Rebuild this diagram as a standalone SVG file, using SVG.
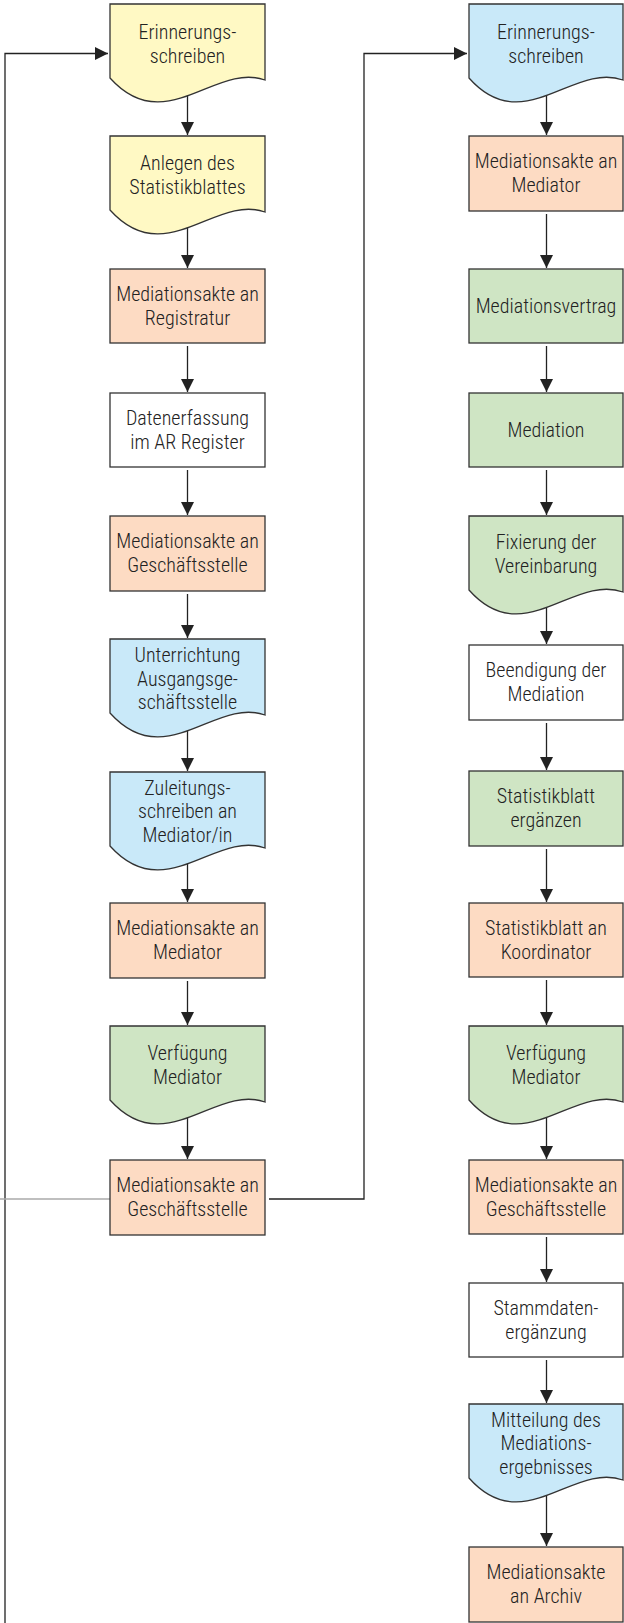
<svg xmlns="http://www.w3.org/2000/svg" xmlns:xlink="http://www.w3.org/1999/xlink" width="624" height="1623" viewBox="0 0 624 1623">
<style>
.box{stroke:#333;stroke-width:1.3}
.y{fill:#FFF9C4}.b{fill:#C9E9F9}.s{fill:#FDDBC3}.g{fill:#CFE5C4}.w{fill:#FFFFFF}
text{font-family:"Liberation Sans Narrow","Roboto Condensed","Roboto","Liberation Sans",sans-serif;font-size:20px;font-weight:300;fill:#222;text-anchor:middle}
.c{fill:none;stroke:#222;stroke-width:1.3}
</style>
<defs>
<marker id="ah" markerUnits="userSpaceOnUse" markerWidth="14" markerHeight="14" viewBox="0 0 14 14" refX="13" refY="7" orient="auto">
<path d="M0,0.5 L13,7 L0,13.5 Z" fill="#222"/>
</marker>
<path id="docL" d="M0,0 H155 V76 C105,58 55,135 0,74 Z"/>
<path id="docR" d="M0,0 H154 V76 C104,58 54,135 0,74 Z"/>
</defs>

<g id="connectors">
<path class="c" d="M5,1623 V53.5 H108" marker-end="url(#ah)"/>
<path d="M0,1199 H110" fill="none" stroke="#aaa" stroke-width="1.3"/>
<path class="c" d="M269,1199 H364 V53.5 H467" marker-end="url(#ah)"/>
<path class="c" d="M187.5,94 V135" marker-end="url(#ah)"/>
<path class="c" d="M187.5,226 V268" marker-end="url(#ah)"/>
<path class="c" d="M187.5,346 V392" marker-end="url(#ah)"/>
<path class="c" d="M187.5,470 V515" marker-end="url(#ah)"/>
<path class="c" d="M187.5,594 V638" marker-end="url(#ah)"/>
<path class="c" d="M187.5,729 V771" marker-end="url(#ah)"/>
<path class="c" d="M187.5,862 V902" marker-end="url(#ah)"/>
<path class="c" d="M187.5,981 V1025" marker-end="url(#ah)"/>
<path class="c" d="M187.5,1116 V1159" marker-end="url(#ah)"/>
<path class="c" d="M546.5,94 V135" marker-end="url(#ah)"/>
<path class="c" d="M546.5,214 V268" marker-end="url(#ah)"/>
<path class="c" d="M546.5,346 V392" marker-end="url(#ah)"/>
<path class="c" d="M546.5,470 V515" marker-end="url(#ah)"/>
<path class="c" d="M546.5,606 V644" marker-end="url(#ah)"/>
<path class="c" d="M546.5,723 V770" marker-end="url(#ah)"/>
<path class="c" d="M546.5,849 V902" marker-end="url(#ah)"/>
<path class="c" d="M546.5,980 V1025" marker-end="url(#ah)"/>
<path class="c" d="M546.5,1116 V1159" marker-end="url(#ah)"/>
<path class="c" d="M546.5,1237 V1282" marker-end="url(#ah)"/>
<path class="c" d="M546.5,1360 V1403" marker-end="url(#ah)"/>
<path class="c" d="M546.5,1494 V1546" marker-end="url(#ah)"/>
</g>

<g id="L1" transform="translate(110,4)"><use href="#docL" class="box y"/><text x="77.5" y="35">Erinnerungs-</text><text x="77.5" y="59">schreiben</text></g>
<g id="L2" transform="translate(110,136)"><use href="#docL" class="box y"/><text x="77.5" y="34">Anlegen des</text><text x="77.5" y="58">Statistikblattes</text></g>
<g id="L3" transform="translate(110,269)"><rect width="155" height="74" class="box s"/><text x="77.5" y="32">Mediationsakte an</text><text x="77.5" y="56">Registratur</text></g>
<g id="L4" transform="translate(110,393)"><rect width="155" height="74" class="box w"/><text x="77.5" y="32">Datenerfassung</text><text x="77.5" y="56">im AR Register</text></g>
<g id="L5" transform="translate(110,516)"><rect width="155" height="75" class="box s"/><text x="77.5" y="32">Mediationsakte an</text><text x="77.5" y="56">Geschäftsstelle</text></g>
<g id="L6" transform="translate(110,639)"><use href="#docL" class="box b"/><text x="77.5" y="23">Unterrichtung</text><text x="77.5" y="46.5">Ausgangsge-</text><text x="77.5" y="70">schäftsstelle</text></g>
<g id="L7" transform="translate(110,772)"><use href="#docL" class="box b"/><text x="77.5" y="22.5">Zuleitungs-</text><text x="77.5" y="46">schreiben an</text><text x="77.5" y="69.5">Mediator/in</text></g>
<g id="L8" transform="translate(110,903)"><rect width="155" height="75" class="box s"/><text x="77.5" y="32">Mediationsakte an</text><text x="77.5" y="56">Mediator</text></g>
<g id="L9" transform="translate(110,1026)"><use href="#docL" class="box g"/><text x="77.5" y="34">Verfügung</text><text x="77.5" y="58">Mediator</text></g>
<g id="L10" transform="translate(110,1160)"><rect width="155" height="75" class="box s"/><text x="77.5" y="32">Mediationsakte an</text><text x="77.5" y="56">Geschäftsstelle</text></g>

<g id="R1" transform="translate(469,4)"><use href="#docR" class="box b"/><text x="77" y="35">Erinnerungs-</text><text x="77" y="59">schreiben</text></g>
<g id="R2" transform="translate(469,136)"><rect width="154" height="75" class="box s"/><text x="77" y="32">Mediationsakte an</text><text x="77" y="56">Mediator</text></g>
<g id="R3" transform="translate(469,269)"><rect width="154" height="74" class="box g"/><text x="77" y="44">Mediationsvertrag</text></g>
<g id="R4" transform="translate(469,393)"><rect width="154" height="74" class="box g"/><text x="77" y="44">Mediation</text></g>
<g id="R5" transform="translate(469,516)"><use href="#docR" class="box g"/><text x="77" y="33">Fixierung der</text><text x="77" y="57">Vereinbarung</text></g>
<g id="R6" transform="translate(469,645)"><rect width="154" height="75" class="box w"/><text x="77" y="32">Beendigung der</text><text x="77" y="56">Mediation</text></g>
<g id="R7" transform="translate(469,771)"><rect width="154" height="75" class="box g"/><text x="77" y="32">Statistikblatt</text><text x="77" y="56">ergänzen</text></g>
<g id="R8" transform="translate(469,903)"><rect width="154" height="74" class="box s"/><text x="77" y="32">Statistikblatt an</text><text x="77" y="56">Koordinator</text></g>
<g id="R9" transform="translate(469,1026)"><use href="#docR" class="box g"/><text x="77" y="34">Verfügung</text><text x="77" y="58">Mediator</text></g>
<g id="R10" transform="translate(469,1160)"><rect width="154" height="74" class="box s"/><text x="77" y="32">Mediationsakte an</text><text x="77" y="56">Geschäftsstelle</text></g>
<g id="R11" transform="translate(469,1283)"><rect width="154" height="74" class="box w"/><text x="77" y="32">Stammdaten-</text><text x="77" y="56">ergänzung</text></g>
<g id="R12" transform="translate(469,1404)"><use href="#docR" class="box b"/><text x="77" y="22.5">Mitteilung des</text><text x="77" y="46">Mediations-</text><text x="77" y="69.5">ergebnisses</text></g>
<g id="R13" transform="translate(469,1547)"><rect width="154" height="75" class="box s"/><text x="77" y="32">Mediationsakte</text><text x="77" y="56">an Archiv</text></g>
</svg>
